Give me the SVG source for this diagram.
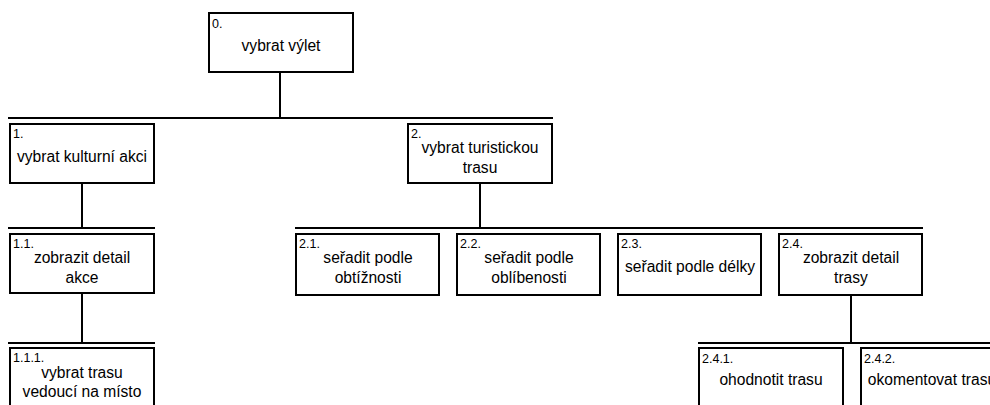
<svg xmlns="http://www.w3.org/2000/svg" width="990" height="405" viewBox="0 0 990 405">
<style>
.box{fill:#fff;stroke:#000;stroke-width:2}
.ln{stroke:#000;stroke-width:2;fill:none}
.num{font-family:"Liberation Sans",Arial,sans-serif;font-size:12.5px;fill:#000}
.t{font-family:"Liberation Sans",Arial,sans-serif;font-size:15.6px;fill:#000;text-anchor:middle}
</style>
<rect width="990" height="405" fill="#fff"/>
<g id="connectors">
<line class="ln" x1="280" y1="72" x2="280" y2="118"/>
<line class="ln" x1="8" y1="118" x2="553" y2="118"/>
<line class="ln" x1="82" y1="183" x2="82" y2="228"/>
<line class="ln" x1="8" y1="228" x2="155" y2="228"/>
<line class="ln" x1="480" y1="183" x2="480" y2="228"/>
<line class="ln" x1="295" y1="228" x2="923" y2="228"/>
<line class="ln" x1="82" y1="293" x2="82" y2="343"/>
<line class="ln" x1="8" y1="343" x2="155" y2="343"/>
<line class="ln" x1="851" y1="294" x2="851" y2="343"/>
<line class="ln" x1="698" y1="343" x2="992" y2="343"/>
</g>
<g id="n0">
<rect class="box" x="209" y="13" width="144" height="59"/>
<text class="num" x="212" y="28">0.</text>
<text class="t" x="281" y="51">vybrat výlet</text>
</g>
<g id="n1">
<rect class="box" x="10" y="124" width="144" height="59"/>
<text class="num" x="13" y="138">1.</text>
<text class="t" x="82" y="162">vybrat kulturní akci</text>
</g>
<g id="n2">
<rect class="box" x="408" y="124" width="144" height="59"/>
<text class="num" x="411" y="138">2.</text>
<text class="t" x="480" y="153">vybrat turistickou</text>
<text class="t" x="480" y="173">trasu</text>
</g>
<g id="n1_1">
<rect class="box" x="10" y="234" width="144" height="59"/>
<text class="num" x="13" y="248">1.1.</text>
<text class="t" x="82" y="263">zobrazit detail</text>
<text class="t" x="82" y="283">akce</text>
</g>
<g id="n2_1">
<rect class="box" x="296" y="234" width="143" height="61"/>
<text class="num" x="299" y="248">2.1.</text>
<text class="t" x="368" y="263">seřadit podle</text>
<text class="t" x="368" y="283">obtížnosti</text>
</g>
<g id="n2_2">
<rect class="box" x="457" y="234" width="143" height="61"/>
<text class="num" x="460" y="248">2.2.</text>
<text class="t" x="529" y="263">seřadit podle</text>
<text class="t" x="529" y="283">oblíbenosti</text>
</g>
<g id="n2_3">
<rect class="box" x="618" y="234" width="143" height="61"/>
<text class="num" x="621" y="248">2.3.</text>
<text class="t" x="690" y="272">seřadit podle délky</text>
</g>
<g id="n2_4">
<rect class="box" x="779" y="234" width="143" height="61"/>
<text class="num" x="782" y="248">2.4.</text>
<text class="t" x="851" y="263">zobrazit detail</text>
<text class="t" x="851" y="283">trasy</text>
</g>
<g id="n1_1_1">
<rect class="box" x="10" y="348" width="144" height="70"/>
<text class="num" x="13" y="362">1.1.1.</text>
<text class="t" x="82" y="378">vybrat trasu</text>
<text class="t" x="82" y="397">vedoucí na místo</text>
</g>
<g id="n2_4_1">
<rect class="box" x="699" y="348" width="144" height="70"/>
<text class="num" x="702" y="363">2.4.1.</text>
<text class="t" x="771" y="385">ohodnotit trasu</text>
</g>
<g id="n2_4_2">
<rect class="box" x="861" y="348" width="144" height="70"/>
<text class="num" x="864" y="363">2.4.2.</text>
<text class="t" x="932" y="385">okomentovat trasu</text>
</g>
</svg>
